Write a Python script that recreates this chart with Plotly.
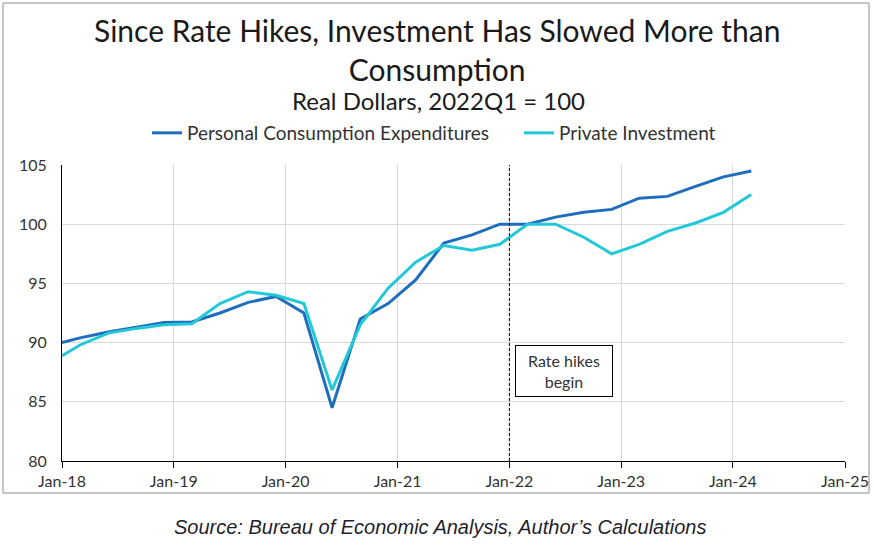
import plotly.graph_objects as go

# ---- data ----
dates = ["2018-01-01", "2018-03-01", "2018-06-01", "2018-09-01", "2018-12-01",
         "2019-03-01", "2019-06-01", "2019-09-01", "2019-12-01",
         "2020-03-01", "2020-06-01", "2020-09-01", "2020-12-01",
         "2021-03-01", "2021-06-01", "2021-09-01", "2021-12-01",
         "2022-03-01", "2022-06-01", "2022-09-01", "2022-12-01",
         "2023-03-01", "2023-06-01", "2023-09-01", "2023-12-01",
         "2024-03-01"]
pce = [90.0, 90.4, 90.9, 91.3, 91.7,
       91.75, 92.5, 93.4, 93.9,
       92.5, 84.5, 92.0, 93.3,
       95.3, 98.4, 99.1, 100.0,
       100.0, 100.6, 101.0, 101.25,
       102.2, 102.35, 103.2, 104.0,
       104.5]
investment = [88.9, 89.8, 90.8, 91.2, 91.5,
              91.6, 93.3, 94.3, 94.0,
              93.3, 86.0, 91.5, 94.6,
              96.8, 98.2, 97.8, 98.3,
              100.0, 100.0, 98.9, 97.5,
              98.3, 99.4, 100.1, 101.0,
              102.5]
tick_dates = ["2018-01-01", "2019-01-01", "2020-01-01", "2021-01-01",
              "2022-01-01", "2023-01-01", "2024-01-01", "2025-01-01"]
tick_labels = ["Jan-18", "Jan-19", "Jan-20", "Jan-21", "Jan-22", "Jan-23", "Jan-24", "Jan-25"]
y_ticks = [80, 85, 90, 95, 100, 105]
series_names = ["Personal Consumption Expenditures", "Private Investment"]
hike_date = "2022-01-01"

FONT = "Lato"
PCE_COLOR = "#1f6dbd"
INV_COLOR = "#22c8d8"

fig = go.Figure()
fig.add_trace(go.Scatter(x=dates, y=pce, mode="lines", name=series_names[0],
                         line=dict(color=PCE_COLOR, width=3)))
fig.add_trace(go.Scatter(x=dates, y=investment, mode="lines", name=series_names[1],
                         line=dict(color=INV_COLOR, width=3)))

W, H = 874, 557
L, R, T, B = 62, 29, 165, 96
PH = H - T - B
PW = W - L - R


def py(ypx):
    return (H - B - ypx) / PH


def px(xpx):
    return (xpx - L) / PW


fig.update_layout(
    width=W, height=H,
    margin=dict(l=L, r=R, t=T, b=B, autoexpand=False),
    paper_bgcolor="white", plot_bgcolor="white",
    font=dict(family=FONT, color="#333333", size=16),
    showlegend=True,
    legend=dict(orientation="h", x=px(147), xanchor="left", y=py(133), yanchor="middle",
                font=dict(family=FONT, size=19, color="#333333"),
                bgcolor="rgba(0,0,0,0)", itemwidth=30, tracegroupgap=0,
                entrywidth=327),
)

fig.update_xaxes(
    type="date", range=["2018-01-01", "2025-01-01"], automargin=False,
    tickmode="array", tickvals=tick_dates, ticktext=tick_labels,
    showgrid=True, gridcolor="#d9d9d9", gridwidth=1,
    showline=True, linecolor="#000000", linewidth=1,
    ticks="outside", ticklen=6, tickcolor="#000000",
    tickfont=dict(family=FONT, size=16, color="#333333"),
    zeroline=False, fixedrange=True,
)
fig.update_yaxes(
    range=[80, 105], tickmode="array", tickvals=y_ticks, automargin=False,
    showgrid=True, gridcolor="#d9d9d9", gridwidth=1,
    showline=True, linecolor="#000000", linewidth=1,
    ticks="", ticklabelstandoff=11,
    tickfont=dict(family=FONT, size=16, color="#333333"),
    zeroline=False, fixedrange=True,
)

# dashed vertical line at rate-hike start
fig.add_shape(type="line", xref="x", yref="y", x0=hike_date, x1=hike_date, y0=80, y1=105,
              line=dict(color="#000000", width=1, dash="3px,2px"))

# outer border
fig.add_shape(type="rect", xref="paper", yref="paper",
              x0=px(3), x1=px(869), y0=py(493), y1=py(3),
              line=dict(color="#8c8c8c", width=1), layer="below")

# title, subtitle, source
fig.add_annotation(xref="paper", yref="paper", x=px(437), y=py(50), xanchor="center", yanchor="middle",
                   text="Since Rate Hikes, Investment Has Slowed More than<br>Consumption",
                   showarrow=False, font=dict(family=FONT, size=30, color="#1a1a1a"))
fig.add_annotation(xref="paper", yref="paper", x=px(438), y=py(100), xanchor="center", yanchor="middle",
                   text="Real Dollars, 2022Q1 = 100",
                   showarrow=False, font=dict(family=FONT, size=24, color="#1a1a1a"))
fig.add_annotation(xref="paper", yref="paper", x=px(440), y=py(527), xanchor="center", yanchor="middle",
                   text="<i>Source: Bureau of Economic Analysis, Author\u2019s Calculations</i>",
                   showarrow=False, font=dict(family="Liberation Sans", size=20, color="#1f1f2e"))

# rate hikes box
fig.add_annotation(xref="paper", yref="paper", x=px(564), y=py(371), xanchor="center", yanchor="middle",
                   text="Rate hikes<br>begin", showarrow=False, align="center",
                   width=86, height=40, borderpad=5,
                   bordercolor="#000000", borderwidth=1, bgcolor="white",
                   font=dict(family=FONT, size=16, color="#333333"))

fig.write_html("out.html", config={"displayModeBar": False},
               post_script="document.body.style.margin='0';document.body.style.overflow='hidden';")
